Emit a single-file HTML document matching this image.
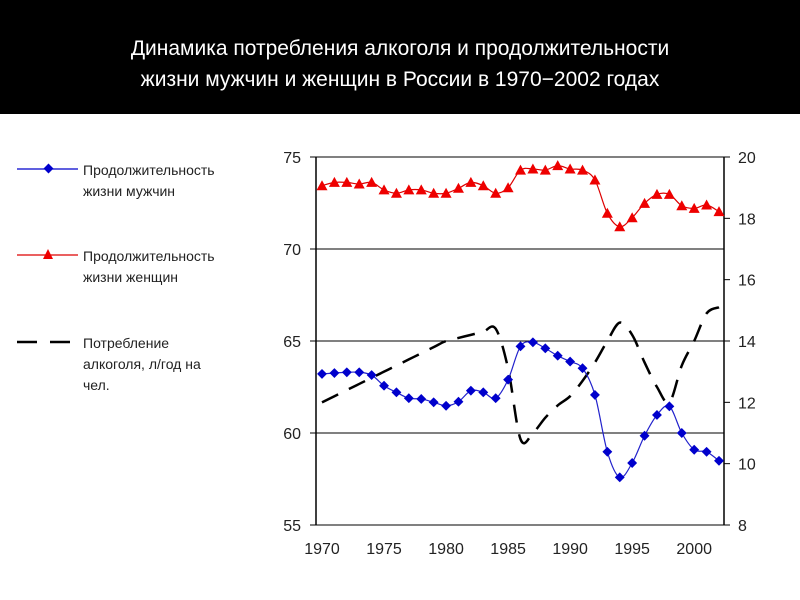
<!DOCTYPE html>
<html><head><meta charset="utf-8"><style>
html,body{margin:0;padding:0;background:#fff;}
svg{display:block;font-family:"Liberation Sans","DejaVu Sans",sans-serif;}
</style></head><body>
<svg id="chart" width="800" height="600" viewBox="0 0 800 600">
<rect x="0" y="0" width="800" height="114" fill="#000"/>
<text x="400" y="55" text-anchor="middle" fill="#fff" font-size="21">Динамика потребления алкоголя и продолжительности</text>
<text x="400" y="86" text-anchor="middle" fill="#fff" font-size="21">жизни мужчин и женщин в России в 1970−2002 годах</text>
<g>
 <g>
  <line x1="17" y1="169" x2="78" y2="169" stroke="#00c" stroke-width="1.2"/>
  <rect x="45" y="165" width="7" height="7" fill="#00c" transform="rotate(45 48.5 168.5)"/>
  <text x="83" y="175" font-size="14" fill="#222">Продолжительность</text>
  <text x="83" y="196" font-size="14" fill="#222">жизни мужчин</text>
 </g>
 <g>
  <line x1="17" y1="255" x2="78" y2="255" stroke="#d00" stroke-width="1.2"/>
  <polygon points="48,249 53,259 43,259" fill="#e00"/>
  <text x="83" y="261" font-size="14" fill="#222">Продолжительность</text>
  <text x="83" y="282" font-size="14" fill="#222">жизни женщин</text>
 </g>
 <g>
  <line x1="17" y1="342" x2="72" y2="342" stroke="#000" stroke-width="2.5" stroke-dasharray="20,13"/>
  <text x="83" y="348" font-size="14" fill="#222">Потребление</text>
  <text x="83" y="369" font-size="14" fill="#222">алкоголя, л/год на</text>
  <text x="83" y="390" font-size="14" fill="#222">чел.</text>
 </g>
</g>
<g id="plot"></g>
</svg>
<script>
const years = [];
for (let y = 1970; y <= 2002; y++) years.push(y);
const men = [63.21,63.26,63.30,63.30,63.15,62.57,62.21,61.89,61.85,61.67,61.48,61.70,62.30,62.21,61.89,62.90,64.71,64.93,64.60,64.20,63.88,63.52,62.07,58.98,57.59,58.37,59.85,60.98,61.45,60.00,59.09,58.98,58.49];
const women = [73.44,73.62,73.62,73.53,73.62,73.21,73.03,73.21,73.21,73.03,73.03,73.30,73.62,73.44,73.03,73.33,74.29,74.35,74.29,74.53,74.35,74.29,73.75,71.94,71.21,71.70,72.48,72.97,72.97,72.35,72.21,72.39,72.03];
const alcohol = [12.0,12.2,12.4,12.6,12.8,13.0,13.2,13.4,13.6,13.8,14.0,14.1,14.2,14.3,14.4,13.1,10.8,11.0,11.5,11.9,12.2,12.7,13.3,14.0,14.6,14.2,13.3,12.5,12.0,13.2,14.0,14.9,15.1];
const leftTicks = [55,60,65,70,75];
const rightTicks = [8,10,12,14,16,18,20];
const xTicks = [1970,1975,1980,1985,1990,1995,2000];

const NS = "http://www.w3.org/2000/svg";
const g = document.getElementById('plot');
const L = 316, R = 724, T = 157, B = 525;
const xS = v => 322 + (v - 1970) * (719 - 322) / 32;
const yL = v => B - (v - 55) * (B - T) / 20;
const yR = v => B - (v - 8) * (B - T) / 12;
function el(tag, attrs, parent) {
  const e = document.createElementNS(NS, tag);
  for (const k in attrs) e.setAttribute(k, attrs[k]);
  (parent || g).appendChild(e);
  return e;
}
function smooth(pts) {
  let d = 'M' + pts[0][0] + ',' + pts[0][1];
  for (let i = 0; i < pts.length - 1; i++) {
    const p0 = pts[Math.max(0, i - 1)], p1 = pts[i], p2 = pts[i + 1], p3 = pts[Math.min(pts.length - 1, i + 2)];
    const t = 0.5 / 3;
    const c1x = p1[0] + (p2[0] - p0[0]) * t, c1y = p1[1] + (p2[1] - p0[1]) * t;
    const c2x = p2[0] - (p3[0] - p1[0]) * t, c2y = p2[1] - (p3[1] - p1[1]) * t;
    d += ` C${c1x},${c1y} ${c2x},${c2y} ${p2[0]},${p2[1]}`;
  }
  return d;
}
leftTicks.forEach(t => {
  const ln = el('line', {x1: L, x2: R, y1: yL(t), y2: yL(t), stroke: '#000', 'stroke-width': 1});
  
  
  el('line', {x1: L - 6, x2: L, y1: yL(t), y2: yL(t), stroke: '#000'});
  const tx = el('text', {x: 301, y: yL(t) + 6, 'text-anchor': 'end', 'font-size': 16, fill: '#222'});
  tx.textContent = t;
  
  
});
rightTicks.forEach(t => {
  el('line', {x1: R, x2: R + 6, y1: yR(t), y2: yR(t), stroke: '#000'});
  const tx = el('text', {x: 738, y: yR(t) + 6, 'font-size': 16, fill: '#222'});
  tx.textContent = t;
  
  
});
xTicks.forEach(t => {
  const tx = el('text', {x: xS(t), y: 554, 'text-anchor': 'middle', 'font-size': 16, fill: '#222'});
  tx.textContent = t;
  
  
});
const ax1 = el('line', {x1: L, x2: L, y1: T, y2: B, stroke: '#000', 'stroke-width': 1.5});


const ax2 = el('line', {x1: R, x2: R, y1: T, y2: B, stroke: '#000', 'stroke-width': 1.5});



const ap = el('path', {d: smooth(years.map((y, i) => [xS(y), yR(alcohol[i])])), fill: 'none', stroke: '#000', 'stroke-width': 2.5, 'stroke-dasharray': '18,12'});


const wp = el('path', {d: smooth(years.map((y, i) => [xS(y), yL(women[i])])), fill: 'none', stroke: '#d00', 'stroke-width': 1.2});


years.forEach((y, i) => {
  const cx = xS(y), cy = yL(women[i]);
  const p = el('polygon', {points: `${cx},${cy-5.5} ${cx+5.5},${cy+4.5} ${cx-5.5},${cy+4.5}`, fill: '#e00'});
  
  
});
const mp = el('path', {d: smooth(years.map((y, i) => [xS(y), yL(men[i])])), fill: 'none', stroke: '#22c', 'stroke-width': 1.2});


years.forEach((y, i) => {
  const cx = xS(y), cy = yL(men[i]);
  const p = el('rect', {x: cx - 3.5, y: cy - 3.5, width: 7, height: 7, fill: '#00c', transform: `rotate(45 ${cx} ${cy})`});
  
  
});
</script>
</body></html>
